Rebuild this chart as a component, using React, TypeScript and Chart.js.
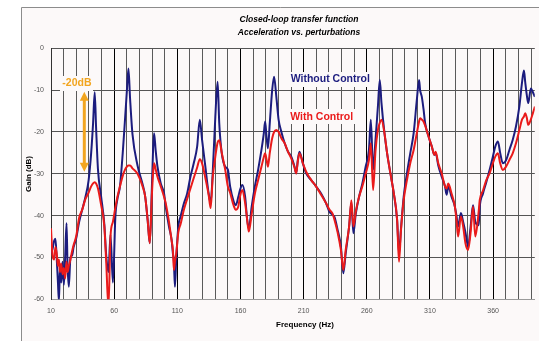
import { useEffect, useRef } from 'react';
import { Chart, registerables } from 'chart.js';

Chart.register(...registerables);

// ---- Data ----
const FREQ_HZ = [
  10.0, 11.2, 12.5, 13.5, 14.5, 15.5, 16.3, 17.1, 18.1, 19.1, 20.2, 21.2, 22.3, 23.1, 24.1, 25.4, 26.7, 27.9, 29.9, 32.3,
  34.8, 37.3, 39.8, 41.8, 43.3, 44.6, 45.7, 47.2, 49.7, 52.2, 53.7, 55.5, 57.1, 59.0, 61.0, 62.6, 64.6, 66.8, 68.6, 70.1,
  71.3, 72.6, 74.5, 78.5, 82.5, 84.6, 86.5, 88.2, 89.8, 90.8, 91.6, 92.9, 94.3, 96.9, 99.5, 100.8, 103.4, 105.5, 106.5, 107.3,
  108.1, 109.2, 110.8, 112.6, 115.3, 117.8, 120.4, 123.0, 125.7, 127.8, 129.6, 132.2, 134.8, 136.4, 138.0, 140.1, 141.9, 143.2, 145.2, 147.9,
  150.0, 151.8, 154.5, 156.3, 158.3, 159.6, 161.5, 163.7, 165.3, 166.6, 168.9, 171.4, 174.0, 176.6, 178.5, 179.5, 180.6, 181.7, 183.2, 185.1,
  186.6, 188.4, 190.2, 192.4, 195.0, 197.6, 200.2, 202.8, 204.1, 205.4, 206.7, 209.4, 212.0, 216.0, 219.8, 223.8, 227.7, 230.3, 232.9, 234.4,
  236.9, 239.5, 241.4, 243.3, 246.0, 247.8, 249.4, 251.3, 253.9, 256.5, 259.1, 261.7, 263.2, 265.0, 266.9, 268.8, 270.3, 271.6, 274.0, 276.1,
  278.7, 281.4, 284.0, 285.5, 287.1, 289.2, 291.8, 294.4, 297.1, 299.6, 301.4, 302.2, 303.5, 304.9, 306.2, 308.9, 311.5, 313.5, 314.5, 316.6,
  319.3, 321.9, 323.2, 324.5, 327.1, 329.7, 331.0, 332.3, 334.5, 336.3, 338.1, 340.2, 342.2, 344.1, 345.9, 348.6, 349.4, 352.0, 354.6, 357.2,
  359.8, 361.7, 363.8, 365.6, 367.7, 370.2, 372.9, 375.5, 378.1, 380.8, 382.8, 384.4, 385.4, 386.6, 387.8, 389.9, 391.5, 393.1,
];

const WITHOUT_CONTROL_DB = [
  -49.0, -48.0, -46.0, -45.5, -50.0, -56.0, -60.5, -52.0, -56.0, -51.0, -56.5, -50.0, -41.8, -52.0, -57.0, -50.0, -49.5, -47.5, -45.5, -41.5,
  -38.5, -35.5, -31.5, -25.0, -18.0, -10.5, -19.0, -29.0, -35.5, -42.0, -49.5, -53.5, -44.5, -56.0, -40.0, -36.0, -33.0, -25.0, -17.0, -10.0,
  -4.8, -12.0, -20.5, -28.0, -32.5, -35.5, -41.0, -46.6, -33.9, -24.3, -20.3, -24.5, -28.3, -32.3, -34.7, -37.8, -42.6, -45.8, -49.0, -51.0,
  -57.0, -50.0, -42.6, -40.2, -37.0, -34.7, -30.7, -27.5, -23.5, -17.1, -21.9, -28.3, -34.7, -37.0, -29.9, -16.3, -8.0, -17.9, -25.1, -28.3,
  -29.0, -33.0, -36.5, -37.5, -35.5, -33.9, -32.7, -35.5, -41.0, -43.0, -37.8, -33.0, -29.0, -24.3, -20.3, -17.5, -21.0, -23.9, -17.9, -10.0,
  -6.8, -11.6, -17.1, -20.0, -22.7, -24.7, -25.9, -28.3, -29.9, -26.7, -24.7, -27.5, -29.9, -31.5, -33.0, -34.7, -37.0, -39.0, -39.8, -40.3,
  -43.4, -47.4, -53.8, -49.0, -42.6, -37.0, -44.2, -39.5, -35.5, -32.3, -28.3, -24.3, -17.1, -29.0, -21.9, -13.9, -7.6, -13.0, -20.3, -25.1,
  -29.9, -34.7, -41.0, -49.0, -43.0, -35.5, -29.9, -25.1, -20.3, -12.4, -7.6, -10.0, -11.5, -14.5, -17.9, -21.1, -23.5, -25.5, -25.0, -28.0,
  -30.7, -33.0, -35.0, -33.0, -35.5, -37.8, -40.0, -42.6, -39.4, -41.5, -44.0, -47.4, -42.6, -37.5, -41.5, -42.3, -38.0, -34.7, -32.0, -29.1,
  -25.9, -23.5, -22.3, -25.0, -27.5, -26.8, -24.3, -21.9, -18.7, -13.9, -8.4, -5.3, -8.0, -11.0, -13.1, -9.6, -10.5, -11.6,
];

const WITH_CONTROL_DB = [
  -43.0, -49.5, -50.5, -47.5, -49.0, -52.0, -50.5, -53.5, -51.5, -54.0, -52.5, -55.0, -51.0, -53.5, -52.0, -50.5, -48.5, -47.0, -45.0, -40.5,
  -38.5, -36.0, -34.5, -33.0, -32.3, -32.0, -32.3, -33.5, -37.5, -42.5, -51.0, -62.0, -45.0, -41.5, -38.0, -35.5, -33.0, -30.5, -29.0, -28.3,
  -28.0, -28.0, -28.7, -30.0, -33.0, -35.5, -41.0, -46.6, -35.5, -30.0, -27.5, -29.0, -30.7, -33.0, -35.5, -37.0, -41.5, -46.0, -48.2, -53.0,
  -51.0, -49.0, -44.0, -42.0, -38.5, -36.0, -33.5, -31.0, -28.5, -26.5, -27.5, -31.0, -35.0, -38.2, -31.0, -25.9, -22.5, -22.0, -25.0, -29.0,
  -33.0, -34.5, -37.5, -38.6, -37.8, -35.5, -33.9, -37.0, -41.0, -43.8, -39.5, -34.7, -31.5, -28.3, -26.0, -25.1, -26.5, -28.3, -25.0, -21.5,
  -20.0, -19.5, -20.0, -21.5, -22.7, -24.7, -26.3, -28.5, -29.9, -27.0, -25.1, -27.5, -29.5, -31.5, -33.0, -35.0, -37.0, -38.5, -39.5, -41.0,
  -44.0, -48.2, -53.0, -48.2, -42.6, -36.3, -42.6, -39.0, -35.5, -33.0, -30.0, -26.7, -22.7, -33.9, -24.5, -19.5, -17.8, -17.1, -20.3, -25.1,
  -29.9, -34.7, -41.0, -51.0, -43.4, -36.3, -31.5, -27.5, -24.3, -20.3, -17.5, -16.7, -17.0, -17.5, -18.5, -21.1, -23.5, -25.5, -24.7, -27.5,
  -29.9, -33.0, -33.5, -32.3, -34.7, -37.8, -41.0, -45.0, -40.2, -42.6, -46.6, -48.2, -44.0, -37.8, -45.0, -39.0, -36.3, -34.0, -31.5, -29.9,
  -27.5, -25.9, -25.1, -27.5, -29.1, -28.3, -26.7, -25.1, -22.7, -19.5, -17.1, -16.3, -15.5, -16.5, -18.3, -17.0, -15.5, -13.9,
];

const X_GRID_HZ = [
  10, 20, 30, 40, 50, 60, 70, 80, 90, 100, 110, 120, 130, 140, 150, 160, 170, 180, 190, 200,
  210, 220, 230, 240, 250, 260, 270, 280, 290, 300, 310, 320, 330, 340, 350, 360, 370, 380, 390,
];
const X_LABELLED_HZ = [10, 60, 110, 160, 210, 260, 310, 360];
const X_MIN = 10;
const X_MAX = 393;
const Y_MIN = -60;
const Y_MAX = 0;
const Y_STEP = 10;

const TITLE_LINES = ['Closed-loop transfer function', 'Acceleration vs. perturbations'];
const X_TITLE = 'Frequency (Hz)';
const Y_TITLE = 'Gain (dB)';
const SERIES_WITHOUT = 'Without Control';
const SERIES_WITH = 'With Control';
const ANNOTATION = '-20dB';

const NAVY = '#1c1c7e';
const RED = '#ea1a1a';
const ORANGE = '#f2a51f';
const FONT = "'Liberation Sans', Arial, sans-serif";

const decorPlugin = {
  id: 'decor',
  beforeDraw(chart: any) {
    const { ctx, width, height } = chart;
    ctx.save();
    ctx.fillStyle = '#ffffff';
    ctx.fillRect(0, 0, width, height);
    ctx.fillStyle = '#fcf9f9';
    ctx.fillRect(21.5, 7.5, width, height);
    ctx.strokeStyle = '#8c8c8c';
    ctx.lineWidth = 1;
    ctx.beginPath();
    ctx.moveTo(21.5, height);
    ctx.lineTo(21.5, 7.5);
    ctx.lineTo(width, 7.5);
    ctx.stroke();
    ctx.restore();
  },
  beforeDatasetsDraw(chart: any) {
    const { ctx } = chart;
    ctx.save();
    ctx.fillStyle = '#fcf9f9';
    ctx.fillRect(288, 72, 86, 15);
    ctx.fillRect(288, 109, 68, 15);
    ctx.fillRect(60, 76, 33, 15);
    ctx.restore();
  },
  afterDatasetsDraw(chart: any) {
    const { ctx } = chart;
    ctx.save();
    // titles
    ctx.fillStyle = '#000';
    ctx.textAlign = 'center';
    ctx.textBaseline = 'middle';
    ctx.font = `italic bold 8.5px ${FONT}`;
    ctx.fillText(TITLE_LINES[0], 299, 19.5);
    ctx.fillText(TITLE_LINES[1], 299, 33);
    ctx.font = `bold 8px ${FONT}`;
    ctx.fillText(X_TITLE, 305, 325);
    ctx.save();
    ctx.translate(29, 174);
    ctx.rotate(-Math.PI / 2);
    ctx.fillText(Y_TITLE, 0, 0);
    ctx.restore();

    // series labels
    ctx.textAlign = 'left';
    ctx.font = `bold 10.5px ${FONT}`;
    ctx.fillStyle = NAVY;
    ctx.fillText(SERIES_WITHOUT, 290.7, 79.5);
    ctx.fillStyle = RED;
    ctx.fillText(SERIES_WITH, 290.3, 117);

    // annotation
    ctx.fillStyle = ORANGE;
    ctx.fillText(ANNOTATION, 62.3, 83.5);
    const ax = 84.3, top = 91.7, bot = 171.7, hh = 9, hw = 4.5;
    ctx.strokeStyle = ORANGE;
    ctx.lineWidth = 3;
    ctx.beginPath();
    ctx.moveTo(ax, top + hh - 1);
    ctx.lineTo(ax, bot - hh + 1);
    ctx.stroke();
    ctx.beginPath();
    ctx.moveTo(ax, top);
    ctx.lineTo(ax - hw, top + hh);
    ctx.lineTo(ax + hw, top + hh);
    ctx.closePath();
    ctx.fill();
    ctx.beginPath();
    ctx.moveTo(ax, bot);
    ctx.lineTo(ax - hw, bot - hh);
    ctx.lineTo(ax + hw, bot - hh);
    ctx.closePath();
    ctx.fill();
    ctx.restore();
  },
};

export default function App() {
  const ref = useRef<HTMLCanvasElement>(null);

  useEffect(() => {
    const canvas = ref.current;
    if (!canvas) return;
    const chart = new Chart(canvas, {
      type: 'line',
      data: {
        datasets: [
          {
            label: SERIES_WITH,
            data: FREQ_HZ.map((f, i) => ({ x: f, y: WITH_CONTROL_DB[i] })),
            borderColor: RED,
            backgroundColor: RED,
            borderWidth: 2,
            pointRadius: 0,
            cubicInterpolationMode: 'monotone',
          },
          {
            label: SERIES_WITHOUT,
            data: FREQ_HZ.map((f, i) => ({ x: f, y: WITHOUT_CONTROL_DB[i] })),
            borderColor: NAVY,
            backgroundColor: NAVY,
            borderWidth: 2,
            pointRadius: 0,
            cubicInterpolationMode: 'monotone',
          },
        ],
      },
      options: {
        animation: false,
        responsive: false,
        devicePixelRatio: 1,
        events: [],
        layout: { padding: { left: 0, right: 0, top: 48.3, bottom: 0 } },
        plugins: {
          legend: { display: false },
          title: { display: false },
          tooltip: { enabled: false },
        },
        scales: {
          x: {
            type: 'linear',
            min: X_MIN,
            max: X_MAX,
            afterBuildTicks: (scale: any) => {
              scale.ticks = X_GRID_HZ.map((v) => ({ value: v }));
            },
            afterFit: (scale: any) => {
              scale.height = 41.7;
            },
            ticks: {
              autoSkip: false,
              maxRotation: 0,
              minRotation: 0,
              padding: 8,
              color: '#555',
              font: { family: FONT, size: 7 },
              callback: (v: any) => (X_LABELLED_HZ.includes(Number(v)) ? String(v) : ''),
            },
            grid: {
              drawTicks: false,
              lineWidth: 1,
              color: (c: any) => (c.tick && X_LABELLED_HZ.includes(c.tick.value) ? '#000000' : '#5a5a5a'),
            },
            border: { display: true, color: '#9a9a9a' },
          },
          y: {
            type: 'linear',
            min: Y_MIN,
            max: Y_MAX,
            afterFit: (scale: any) => {
              scale.width = 51;
            },
            ticks: {
              stepSize: Y_STEP,
              padding: 7,
              color: '#555',
              font: { family: FONT, size: 7 },
            },
            grid: { drawTicks: false, lineWidth: 1, color: '#555555' },
            border: { display: true, color: '#333333' },
          },
        },
      },
      plugins: [decorPlugin],
    } as any);
    return () => chart.destroy();
  }, []);

  return (
    <div style={{ position: 'fixed', left: 0, top: 0, width: 539, height: 341, background: '#fff' }}>
      <canvas ref={ref} width={539} height={341} style={{ display: 'block', width: 539, height: 341 }} />
    </div>
  );
}
